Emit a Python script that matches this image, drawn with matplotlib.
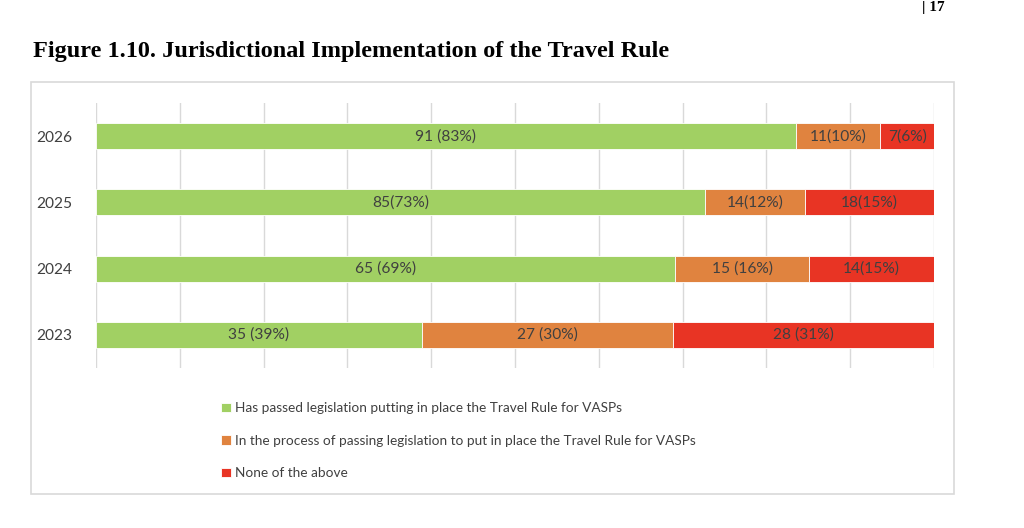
import matplotlib.pyplot as plt
import numpy as np
from matplotlib.patches import Rectangle

# data
years = ['2023', '2024', '2025', '2026']
passed = [35, 65, 85, 91]
process = [27, 15, 14, 11]
none_ = [28, 14, 18, 7]
passed_lbl = ['35 (39%)', '65 (69%)', '85(73%)', '91 (83%)']
process_lbl = ['27 (30%)', '15 (16%)', '14(12%)', '11(10%)']
none_lbl = ['28 (31%)', '14(15%)', '18(15%)', '7(6%)']
legend_names = ['Has passed legislation putting in place the Travel Rule for VASPs',
                'In the process of passing legislation to put in place the Travel Rule for VASPs',
                'None of the above']

colors = ['#A1D063', '#E0833F', '#E83424']
txt = '#404040'
font = ['Lato', 'DejaVu Sans']

W, H = 1024, 528
fig = plt.figure(figsize=(W/100, H/100), dpi=100)

def fx(px): return px / W
def fy(py): return 1 - py / H

# outer frame of the chart area
fig.patches.append(Rectangle((fx(31), fy(494)), fx(954) - fx(31), fy(82) - fy(494),
                             transform=fig.transFigure, fill=False,
                             edgecolor='#D9D9D9', lw=1.2))

fig.text(fx(33), fy(51), 'Figure 1.10. Jurisdictional Implementation of the Travel Rule',
         family='Liberation Serif', weight='bold', fontsize=17.5, va='center', ha='left')
fig.text(fx(922), fy(1), '| 17', family='Liberation Serif', weight='bold',
         fontsize=11, va='top', ha='left')

ax = fig.add_axes([fx(96), fy(368), fx(934) - fx(96), fy(103) - fy(368)])

tot = np.array(passed) + np.array(process) + np.array(none_)
series = [np.array(passed) / tot, np.array(process) / tot, np.array(none_) / tot]
lbls = [passed_lbl, process_lbl, none_lbl]
y = np.arange(len(years))
left = np.zeros(len(years))
handles = []
for s, c, lb, name in zip(series, colors, lbls, legend_names):
    b = ax.barh(y, s, left=left, height=0.39, color=c, edgecolor='white',
                linewidth=0.6, label=name)
    handles.append(b)
    for i in range(len(years)):
        ax.text(left[i] + s[i] / 2, y[i], lb[i], ha='center', va='center',
                fontsize=11.2, color=txt, family=font)
    left = left + s

ax.set_xlim(0, 1)
ax.set_ylim(-0.5, 3.5)
ax.set_xticks(np.arange(0, 1.01, 0.1))
ax.set_xticklabels([])
ax.set_yticks(y)
ax.set_yticklabels(years, fontsize=11.2, color=txt, family=font)
ax.tick_params(length=0, pad=17)
ax.grid(axis='x', color='#D9D9D9', lw=1)
ax.set_axisbelow(True)
for sp in ax.spines.values():
    sp.set_visible(False)

leg = fig.legend(handles=handles, loc='upper left', bbox_to_anchor=(fx(209), fy(390)),
                 frameon=False, handlelength=0.7, handleheight=0.7, handletextpad=0.3,
                 labelspacing=1.5, prop={'family': font, 'size': 9.8})
for t in leg.get_texts():
    t.set_color(txt)

fig.savefig('out.png', dpi=100)
